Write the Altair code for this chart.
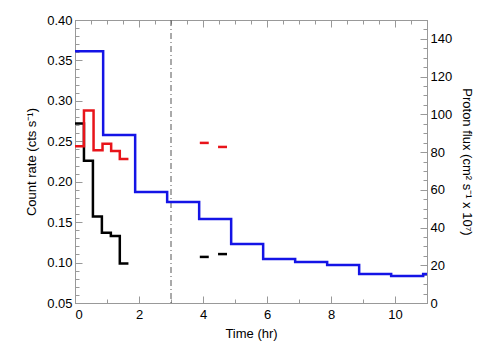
import altair as alt
import pandas as pd

# ---- data ----
black_edges = [0.0, 0.28, 0.56, 0.84, 1.12, 1.40, 1.67]
black_vals = [0.272, 0.226, 0.157, 0.137, 0.133, 0.099]
red_edges = [0.0, 0.28, 0.58, 0.86, 1.13, 1.40, 1.67]
red_vals = [0.244, 0.288, 0.239, 0.247, 0.238, 0.228]
late_bins = [[3.90, 4.18], [4.47, 4.75]]
red_late = [0.248, 0.243]
black_late = [0.107, 0.1105]
blue_edges = [0.0, 0.88, 1.88, 2.88, 3.88, 4.88, 5.88, 6.88, 7.88, 8.88, 9.88, 10.88, 11.0]
blue_vals = [133.5, 89, 58.8, 53.5, 44.5, 31.3, 23.3, 21.7, 20.1, 15.4, 14.3, 15.4]
marker_time = [3.0]

x_ticks = [i * 0.5 for i in range(23)]
yl_ticks = [round(0.05 + i * 0.01, 2) for i in range(36)]
yr_ticks = [i * 5 for i in range(31)]

rows = []
def add_step(edges, vals, grp, col):
    for i, v in enumerate(vals):
        rows.append({"t": edges[i], "v": v, "grp": grp, "col": col, "o": i})
    rows.append({"t": edges[-1], "v": vals[-1], "grp": grp, "col": col, "o": len(vals)})

add_step(black_edges, black_vals, "black", "black")
add_step(red_edges, red_vals, "red", "red")
for k, (a, b) in enumerate(late_bins):
    add_step([a, b], [red_late[k]], f"red_late{k}", "red")
    add_step([a, b], [black_late[k]], f"black_late{k}", "black")
left_df = pd.DataFrame(rows)

blue_rows = [{"t": blue_edges[i], "v": v, "o": i} for i, v in enumerate(blue_vals)]
blue_rows.append({"t": blue_edges[-1], "v": blue_vals[-1], "o": len(blue_vals)})
blue_df = pd.DataFrame(blue_rows)
rule_df = pd.DataFrame({"t": marker_time})

FONT = "Liberation Sans"
AX = "#999999"
XT = "abs(datum.value/2 - round(datum.value/2)) < 0.001"

def xscale():
    return alt.Scale(domain=[0, 11], nice=False, zero=False)

def ax_common(**kw):
    base = dict(domainColor=AX, tickColor=AX, tickWidth=1, labelFont=FONT, titleFont=FONT,
                labelFontSize=13, titleFontSize=13, labelColor="black", titleColor="black",
                titleFontWeight="normal", grid=False, tickBand="center")
    base.update(kw)
    return alt.Axis(**base)

left = alt.Chart(left_df).mark_line(interpolate="step-after", strokeWidth=2.5).encode(
    x=alt.X("t:Q", scale=xscale(), title="Time (hr)",
            axis=ax_common(values=x_ticks, orient="bottom", format="d",
                           labelExpr=f"{XT} ? datum.label : ''",
                           tickSize=alt.ExprRef(expr=f"{XT} ? -7 : -4"),
                           labelPadding=12, titlePadding=6)),
    y=alt.Y("v:Q", scale=alt.Scale(domain=[0.05, 0.40], nice=False, zero=False),
            title="Count rate (cts  s⁻¹)",
            axis=ax_common(values=yl_ticks, orient="left", format=".2f",
                           labelExpr="abs(datum.value*20 - round(datum.value*20)) < 0.001 ? datum.label : ''",
                           tickSize=alt.ExprRef(expr="abs(datum.value*20 - round(datum.value*20)) < 0.001 ? -7 : -4"),
                           labelPadding=10, titlePadding=8)),
    color=alt.Color("col:N", scale=alt.Scale(domain=["black", "red"], range=["#000000", "#e8141a"]), legend=None),
    detail="grp:N",
    order="o:Q",
)

rule = alt.Chart(rule_df).mark_rule(color="#555555", strokeWidth=1, strokeDash=[6, 3, 1, 3]).encode(
    x=alt.X("t:Q", scale=xscale(), axis=None)
)

blue = alt.Chart(blue_df).mark_line(interpolate="step-after", strokeWidth=2.5, color="#1414e6").encode(
    x=alt.X("t:Q", scale=xscale(), title=None,
            axis=ax_common(values=x_ticks, orient="top", labels=False,
                           tickSize=alt.ExprRef(expr=f"{XT} ? -7 : -4"))),
    y=alt.Y("v:Q", scale=alt.Scale(domain=[0, 150], nice=False, zero=False),
            title="Proton flux (cm² s⁻¹ x 10⁷)",
            axis=ax_common(values=yr_ticks, orient="right",
                           labelExpr="datum.value % 20 === 0 && datum.value <= 140 ? datum.label : ''",
                           tickSize=alt.ExprRef(expr="datum.value % 20 === 0 ? -7 : -4"),
                           labelPadding=10, titlePadding=8)),
    order="o:Q",
)

chart = alt.layer(left, rule, blue).resolve_scale(x="independent", y="independent").resolve_axis(
    x="independent", y="independent").properties(
    width=352, height=283,
    autosize=alt.AutoSizeParams(type="none"),
    padding={"left": 67, "top": 12, "right": 69, "bottom": 49},
).configure_view(stroke=AX, strokeWidth=1)

chart.save("out.html", embed_options={"renderer": "svg", "actions": False})
